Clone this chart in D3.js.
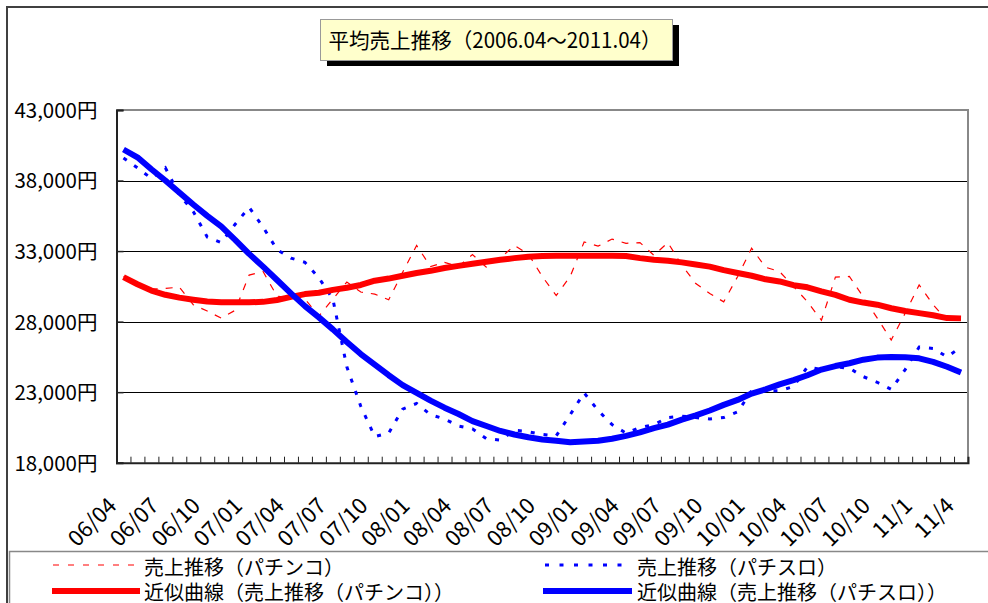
<!DOCTYPE html>
<html><head><meta charset="utf-8">
<script src="https://cdn.jsdelivr.net/npm/d3@7/dist/d3.min.js"></script>
<style>
html,body{margin:0;padding:0;background:#fff;}
svg{display:block;}
text{font-family:"Noto Sans CJK JP","Noto Sans",sans-serif;fill:#000;}
</style></head>
<body>
<svg id="chart" width="988" height="603"></svg>
<script>
const title = "平均売上推移（2006.04～2011.04）";
const categories = [
 "06/04","06/05","06/06","06/07","06/08","06/09","06/10","06/11","06/12",
 "07/01","07/02","07/03","07/04","07/05","07/06","07/07","07/08","07/09","07/10","07/11","07/12",
 "08/01","08/02","08/03","08/04","08/05","08/06","08/07","08/08","08/09","08/10","08/11","08/12",
 "09/01","09/02","09/03","09/04","09/05","09/06","09/07","09/08","09/09","09/10","09/11","09/12",
 "10/01","10/02","10/03","10/04","10/05","10/06","10/07","10/08","10/09","10/10","10/11","10/12",
 "11/1","11/2","11/3","11/4"];
const tickLabels = ["06/04","06/07","06/10","07/01","07/04","07/07","07/10","08/01","08/04","08/07","08/10",
 "09/01","09/04","09/07","09/10","10/01","10/04","10/07","10/10","11/1","11/4"];
const yTicks = [18000,23000,28000,33000,38000,43000];
const seriesNames = ["売上推移（パチンコ）","売上推移（パチスロ）","近似曲線（売上推移（パチンコ））","近似曲線（売上推移（パチスロ））"];
const pachinko = [31200,30700,30300,30350,30450,29200,28750,28250,28800,31300,31550,29800,29700,29600,28400,29600,30800,30100,29950,29550,31500,
 33400,31900,32200,31900,32750,31850,32500,33400,32800,31200,29850,31200,33650,33350,33850,33550,33600,32700,33600,32000,
 30700,30000,29400,31200,33200,31850,31550,30500,29400,28100,31150,31200,29750,28250,26700,28600,30600,29200,28100,28200];
const pachislot = [39600,38900,38150,38900,37000,35800,34000,33600,34900,36100,34700,33100,32500,32200,31100,29600,24800,22000,19850,20100,21800,
 22200,21400,21100,20600,20400,19700,19600,20300,20200,20000,19900,21400,22950,21700,20700,20100,20500,20700,21200,21300,
 21200,21100,21200,21600,23100,23100,23100,23400,24800,24600,24800,24700,24100,23700,23200,24600,26200,26100,25500,26200];
const pachinkoTrend = [31150,30650,30200,29900,29700,29550,29420,29370,29370,29370,29400,29530,29750,29950,30050,30250,30400,30600,30900,31050,31250,
 31450,31600,31800,31950,32100,32250,32380,32500,32600,32650,32670,32670,32670,32670,32670,32650,32500,32380,32320,32200,
 32050,31900,31650,31450,31250,31000,30850,30580,30430,30150,29900,29550,29350,29200,28950,28750,28600,28450,28250,28230];
const pachislotTrend = [40200,39650,38800,38000,37150,36300,35500,34750,33800,32800,31900,30950,30000,29100,28300,27450,26550,25700,24950,24200,23500,
 22950,22400,21900,21450,20950,20600,20250,20000,19800,19650,19550,19450,19500,19550,19700,19900,20150,20450,20700,21050,
 21350,21700,22100,22450,22900,23200,23550,23850,24200,24600,24850,25050,25300,25450,25500,25480,25400,25150,24800,24400];

const svg = d3.select("#chart");
const L = 116.5, R = 968, T = 110, B = 462.7;

// chart area border
svg.append("rect").attr("x",7).attr("y",7).attr("width",1000).attr("height",700)
  .attr("fill","#fff").attr("stroke","#404040").attr("stroke-width",2);

// title box
svg.append("rect").attr("x",327).attr("y",25).attr("width",352).attr("height",41).attr("fill","#000");
svg.append("rect").attr("x",320.5).attr("y",19.5).attr("width",352).attr("height",41)
  .attr("fill","#FFFFCC").attr("stroke","#999").attr("stroke-width",1);
svg.append("text").attr("x",328.5).attr("y",47.5)
  .attr("textLength",333).attr("lengthAdjust","spacingAndGlyphs")
  .style("font-size","21px").text(title);

const x = d3.scaleBand().domain(categories).range([L,R]).paddingInner(0).paddingOuter(0);
const xc = d => x(d) + x.bandwidth()/2;
const xIdx = d3.scaleLinear().domain([0,categories.length]).range([L,R]);
const y = d3.scaleLinear().domain([18000,43000]).range([B,T]);

// gridlines
svg.append("g").attr("transform",`translate(${L},0)`)
  .call(d3.axisLeft(y).tickValues(yTicks.slice(1,-1)).tickSize(-(R-L)).tickFormat(""))
  .call(g=>{g.select(".domain").remove(); g.selectAll("line").attr("stroke","#000").attr("stroke-width",1).attr("shape-rendering","crispEdges");});

// plot border top/right
svg.append("path").attr("d",`M${L},${T}H${R}V${B}`).attr("fill","none").attr("stroke","#888").attr("stroke-width",2);

// series
const line = data => d3.line().x((d,i)=>xc(categories[i])).y(d=>y(d))(data);
svg.append("path").attr("d",line(pachinko)).attr("fill","none").attr("stroke","#FF0000")
  .attr("stroke-width",1.2).attr("stroke-dasharray","7,8");
svg.append("path").attr("d",line(pachislot)).attr("fill","none").attr("stroke","#0000FF")
  .attr("stroke-width",3).attr("stroke-dasharray","4,9");
svg.append("path").attr("d",line(pachinkoTrend)).attr("fill","none").attr("stroke","#FF0000")
  .attr("stroke-width",6).attr("stroke-linejoin","round");
svg.append("path").attr("d",line(pachislotTrend)).attr("fill","none").attr("stroke","#0000FF")
  .attr("stroke-width",6).attr("stroke-linejoin","round");

// y axis
svg.append("g").attr("transform",`translate(${L},0)`)
  .call(d3.axisLeft(y).tickValues(yTicks).tickSize(-7).tickPadding(19).tickFormat(d=>d3.format(",")(d)+"円"))
  .call(g=>{g.select(".domain").attr("stroke","#222").attr("stroke-width",2);
    g.selectAll("line").attr("stroke","#222").attr("stroke-width",1.5);
    g.selectAll("text").style("font-size","20.5px").attr("dy","0.36em");});

// x axis ticks at category boundaries
svg.append("g").attr("transform",`translate(0,${B})`)
  .call(d3.axisBottom(xIdx).tickValues(d3.range(1,categories.length)).tickSize(-6).tickFormat(""))
  .call(g=>{g.select(".domain").attr("stroke","#222").attr("stroke-width",2);
    g.selectAll("line").attr("stroke","#222").attr("stroke-width",1);});

// x labels
svg.append("g").attr("transform",`translate(0,${B})`)
  .call(d3.axisBottom(d3.scalePoint().domain(categories).range([xc(categories[0]),xc(categories[categories.length-1])]))
     .tickValues(tickLabels).tickSize(0))
  .call(g=>{g.select(".domain").remove();
    g.selectAll("text").style("font-size","22px").attr("x",0).attr("y",0).attr("dy","0.35em")
     .attr("text-anchor","end").attr("transform","translate(-11.5,39) rotate(-45)");});

// legend
svg.append("rect").attr("x",9.5).attr("y",551.5).attr("width",1000).attr("height",100)
  .attr("fill","#fff").attr("stroke","#888").attr("stroke-width",1.5);
const leg = [
  {x1:53,x2:138,y:565,tx:144,ty:575,color:"#FF0000",w:1.2,dash:"6,9",name:seriesNames[0]},
  {x1:545,x2:626,y:565,tx:637,ty:575,color:"#0000FF",w:3,dash:"4,10.5",name:seriesNames[1]},
  {x1:52,x2:140,y:591,tx:144,ty:599.5,color:"#FF0000",w:6,dash:null,name:seriesNames[2]},
  {x1:543,x2:632,y:591,tx:637,ty:599.5,color:"#0000FF",w:6,dash:null,name:seriesNames[3]}
];
const lg = svg.append("g").selectAll("g").data(leg).join("g");
lg.append("line").attr("x1",d=>d.x1).attr("x2",d=>d.x2).attr("y1",d=>d.y).attr("y2",d=>d.y)
  .attr("stroke",d=>d.color).attr("stroke-width",d=>d.w).attr("stroke-dasharray",d=>d.dash);
lg.append("text").attr("x",d=>d.tx).attr("y",d=>d.ty).style("font-size","20px").text(d=>d.name);
</script>
</body></html>
